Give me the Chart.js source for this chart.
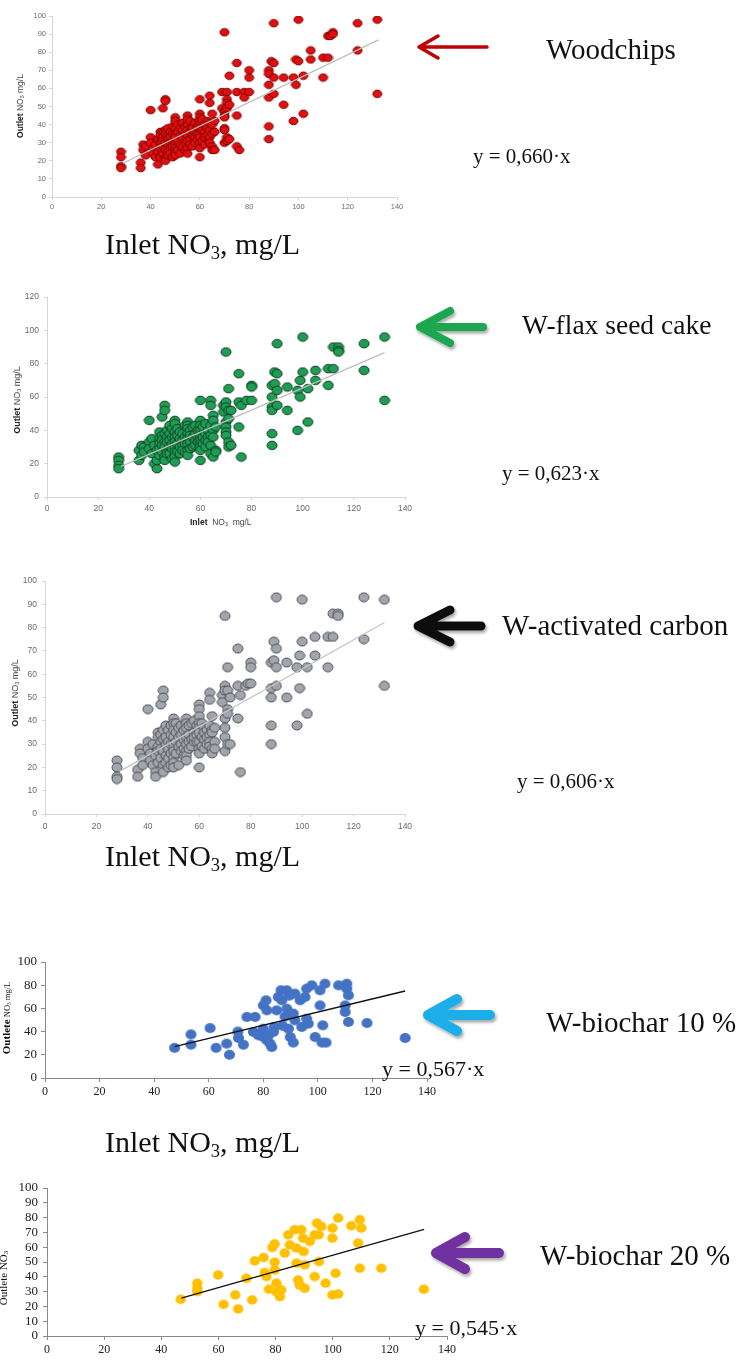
<!DOCTYPE html>
<html>
<head>
<meta charset="utf-8">
<script src="https://cdn.jsdelivr.net/npm/chart.js@4"></script>
<style>
  body { margin: 0; background: #fff; }
  #page { position: relative; width: 746px; height: 1364px; overflow: hidden; background: #fff; }
  canvas { position: absolute; left: 0; }
  .txt { position: absolute; font-family: "Liberation Serif", "Times New Roman", serif; color: #111; white-space: nowrap; transform: translateY(-50%); line-height: 1; }
  .ytitle { position: absolute; white-space: nowrap; transform: translate(-50%, -50%) rotate(-90deg); line-height: 1; }
  .sans { font-family: "Liberation Sans", Arial, sans-serif; color: #444; }
  sub { font-size: 0.62em; vertical-align: -0.25em; line-height: 0; }
</style>
</head>
<body>
<div id="page">
  <canvas id="c1"></canvas>
  <canvas id="c2"></canvas>
  <canvas id="c3"></canvas>
  <canvas id="c4"></canvas>
  <canvas id="c5"></canvas>

  <svg width="746" height="1364" style="position:absolute;left:0;top:0">
    <defs>
      <filter id="sh" x="-20%" y="-50%" width="140%" height="200%">
        <feDropShadow dx="1.5" dy="2.5" stdDeviation="1.5" flood-opacity="0.35"/>
      </filter>
    </defs>
    <path d="M487 47 H419 M438 36 L419 47 L438 58" stroke="#c00000" stroke-width="3.5" fill="none" stroke-linecap="round" stroke-linejoin="round"/>
    <path d="M483 327 H420 M450 311 L420 327 L450 343" stroke="#1fa64f" stroke-width="8" fill="none" stroke-linecap="round" stroke-linejoin="round" filter="url(#sh)"/>
    <path d="M481 626 H418 M450 610 L418 626 L450 642" stroke="#111" stroke-width="9" fill="none" stroke-linecap="round" stroke-linejoin="round" filter="url(#sh)"/>
    <path d="M490 1015 H428 M457 999 L428 1015 L457 1031" stroke="#1eaee8" stroke-width="10" fill="none" stroke-linecap="round" stroke-linejoin="round" filter="url(#sh)"/>
    <path d="M499 1253 H436 M465 1237 L436 1253 L465 1269" stroke="#7030a0" stroke-width="10" fill="none" stroke-linecap="round" stroke-linejoin="round" filter="url(#sh)"/>
  </svg>

  <div class="txt" style="left:546px;top:49px;font-size:29px">Woodchips</div>
  <div class="txt" style="left:473px;top:156px;font-size:21px">y = 0,660·x</div>
  <div class="txt" style="left:105px;top:244px;font-size:30px">Inlet NO<sub>3</sub>, mg/L</div>
  <div class="ytitle sans" style="left:20px;top:106px;font-size:8.5px"><b style="color:#222">Outlet</b> NO<sub>3</sub> mg/L</div>

  <div class="txt" style="left:522px;top:325px;font-size:27.5px">W-flax seed cake</div>
  <div class="txt" style="left:502px;top:473px;font-size:21px">y = 0,623·x</div>
  <div class="txt sans" style="left:190px;top:522px;font-size:8.5px;color:#444"><b style="color:#222">Inlet</b>&nbsp; NO<sub>3</sub>&nbsp; mg/L</div>
  <div class="ytitle sans" style="left:17px;top:400px;font-size:9px"><b style="color:#222">Outlet</b> NO<sub>3</sub> mg/L</div>

  <div class="txt" style="left:502px;top:625px;font-size:29px">W-activated carbon</div>
  <div class="txt" style="left:517px;top:781px;font-size:21px">y = 0,606·x</div>
  <div class="txt" style="left:105px;top:856px;font-size:30px">Inlet NO<sub>3</sub>, mg/L</div>
  <div class="ytitle sans" style="left:15px;top:693px;font-size:9px"><b style="color:#222">Outlet</b> NO<sub>3</sub> mg/L</div>

  <div class="txt" style="left:546px;top:1022px;font-size:29px">W-biochar 10 %</div>
  <div class="txt" style="left:382px;top:1069px;font-size:22px">y = 0,567·x</div>
  <div class="txt" style="left:105px;top:1142px;font-size:30px">Inlet NO<sub>3</sub>, mg/L</div>
  <div class="ytitle" style="left:6px;top:1018px;font-family:'Liberation Serif',serif;font-size:8.5px;color:#111"><b style="font-size:11px">Outlete</b> NO<sub>3</sub> mg/L</div>

  <div class="txt" style="left:540px;top:1255px;font-size:29px">W-biochar 20 %</div>
  <div class="txt" style="left:415px;top:1328px;font-size:22px">y = 0,545·x</div>
  <div class="ytitle" style="left:3px;top:1278px;font-family:'Liberation Serif',serif;font-size:11px;color:#111">Outlete NO<sub>3</sub></div>
</div>

<script>
// inlet NO3 (x) vs outlet NO3 (y), mg/L
const woodchipsPoints = [
  [28,25],[28,22],[28,17],[28,16],
  [36,19],[36,16],[37,29],[37,26],[38,23],[38,28],
  [40,48],[40,33],[40,30],[41,27],[41,24],[42,22],[42,29],[43,18],[43,32],[43,25],
  [44,36],[44,34],[44,30],[44,27],[44,22],
  [45,49],[45,36],[45,33],[45,31],[45,28],[45,24],
  [46,54],[46,53],[46,37],[46,35],[46,30],[46,26],[46,21],[46,20],
  [47,38],[47,34],[47,32],[47,29],[47,25],[47,23],
  [48,36],[48,33],[48,30],[48,27],[48,24],
  [49,39],[49,35],[49,31],[49,28],[49,22],
  [50,44],[50,42],[50,38],[50,35],[50,33],[50,30],[50,27],[50,25],[50,23],
  [51,40],[51,36],[51,31],[51,26],
  [52,38],[52,34],[52,29],[52,24],
  [53,41],[53,37],[53,33],[53,28],
  [54,39],[54,35],[54,30],[54,26],
  [55,45],[55,43],[55,40],[55,37],[55,34],[55,31],[55,27],[55,24],
  [56,42],[56,36],[56,32],[56,29],
  [57,38],[57,34],[57,28],
  [58,41],[58,36],[58,33],[58,30],
  [59,39],[59,35],[59,32],
  [60,54],[60,46],[60,44],[60,42],[60,40],[60,38],[60,35],[60,33],[60,30],[60,27],[60,22],
  [61,43],[61,37],[61,31],
  [62,40],[62,36],[62,33],[62,29],
  [63,42],[63,38],[63,34],
  [64,56],[64,52],[64,41],[64,37],[64,33],[64,30],
  [65,46],[65,40],[65,35],[65,28],[65,26],
  [66,42],[66,36],[66,26],
  [69,58],[69,49],[70,91],[70,47],[70,45],[70,44],[70,38],[70,37],[70,30],
  [71,58],[71,54],[71,52],[71,49],[71,33],[71,31],[72,67],[72,51],[72,32],
  [75,74],[75,58],[75,45],[75,28],[76,26],
  [78,58],[78,55],[80,58],[80,70],[80,66],
  [88,70],[88,68],[88,62],[88,55],[88,39],[88,32],
  [89,75],[90,74],[90,96],[90,57],[90,66],
  [94,66],[94,51],[98,66],[99,62],[98,42],[99,76],[100,75],[100,98],
  [102,67],[102,46],[105,81],[105,76],
  [110,66],[110,77],[112,77],[112,89],[113,89],[114,91],[114,90],
  [124,96],[124,81],[132,98],[132,57]
];
const flaxPoints = [
  [28,24],[28,22],[28,19],[28,17],
  [36,22],[36,28],[37,31],[37,25],[38,30],[38,27],
  [40,46],[40,33],[40,29],[41,26],[41,35],[42,20],[42,31],[43,17],[43,22],[43,28],
  [44,39],[44,35],[44,32],[44,29],[44,25],
  [45,48],[45,37],[45,34],[45,31],[45,27],
  [46,55],[46,52],[46,38],[46,33],[46,30],[46,24],[46,22],
  [47,40],[47,36],[47,33],[47,28],[47,26],
  [48,43],[48,38],[48,34],[48,30],[48,26],
  [49,41],[49,36],[49,32],[49,29],[49,23],
  [50,46],[50,44],[50,39],[50,36],[50,33],[50,30],[50,27],[50,24],[50,21],
  [51,41],[51,37],[51,32],[51,27],
  [52,39],[52,35],[52,30],[52,26],
  [53,38],[53,34],[53,31],[53,28],
  [54,43],[54,36],[54,32],[54,27],
  [55,45],[55,43],[55,41],[55,38],[55,35],[55,32],[55,28],[55,25],
  [56,40],[56,37],[56,33],[56,29],
  [57,42],[57,36],[57,30],
  [58,43],[58,38],[58,34],[58,31],
  [59,40],[59,36],[59,33],
  [60,58],[60,46],[60,43],[60,40],[60,37],[60,34],[60,32],[60,30],[60,28],[60,22],
  [61,42],[61,36],[61,32],
  [62,44],[62,38],[62,34],[62,30],
  [63,40],[63,36],[63,33],
  [64,58],[64,55],[64,43],[64,37],[64,31],[64,26],
  [65,49],[65,46],[65,40],[65,36],[65,24],
  [66,42],[66,28],[66,27],
  [69,55],[69,51],[70,87],[70,57],[70,54],[70,45],[70,42],[70,39],[70,37],
  [71,65],[71,52],[71,47],[71,33],[71,30],[72,52],[72,31],
  [75,74],[75,57],[75,42],[76,55],[76,24],
  [78,58],[80,58],[80,67],[80,66],
  [88,67],[89,68],[89,75],[90,74],[90,92],[88,60],[88,54],[88,52],[90,64],[90,55],[88,38],[88,31],
  [94,66],[94,52],[98,64],[99,70],[99,60],[98,40],[100,75],[100,96],
  [102,65],[102,45],[105,76],[105,70],
  [110,67],[110,77],[112,77],[112,90],[114,90],[114,88],[114,87],
  [124,92],[124,76],[132,96],[132,58]
];
const carbonPoints = [
  [28,23],[28,20],[28,16],[28,15],
  [36,19],[36,16],[37,28],[37,26],[38,24],[38,21],
  [40,45],[40,31],[40,28],[41,26],[41,23],[42,21],[42,30],[43,18],[43,16],[43,25],
  [44,35],[44,33],[44,29],[44,27],[44,22],
  [45,47],[45,34],[45,31],[45,28],[45,24],
  [46,53],[46,50],[46,36],[46,32],[46,27],[46,21],[46,18],
  [47,38],[47,33],[47,30],[47,25],[47,22],
  [48,36],[48,31],[48,28],[48,24],[48,20],
  [49,38],[49,34],[49,30],[49,26],[49,21],
  [50,41],[50,39],[50,36],[50,33],[50,30],[50,27],[50,24],[50,22],[50,20],
  [51,39],[51,35],[51,31],[51,26],
  [52,37],[52,33],[52,29],[52,21],
  [53,38],[53,34],[53,30],[53,27],
  [54,36],[54,32],[54,28],[54,25],
  [55,41],[55,39],[55,37],[55,33],[55,30],[55,27],[55,25],[55,23],
  [56,38],[56,34],[56,31],[56,28],
  [57,39],[57,32],[57,29],
  [58,40],[58,35],[58,31],[58,33],
  [59,38],[59,34],[59,31],
  [60,47],[60,45],[60,42],[60,39],[60,37],[60,35],[60,31],[60,28],[60,26],[60,20],
  [61,39],[61,33],[61,29],
  [62,37],[62,32],[62,28],[62,35],
  [63,36],[63,33],[63,30],
  [64,52],[64,49],[64,38],[64,34],[64,31],[64,29],
  [65,42],[65,36],[65,35],[65,28],[65,26],
  [66,37],[66,31],[66,28],
  [69,51],[69,48],[70,85],[70,55],[70,53],[70,41],[70,37],[70,33],[70,27],
  [71,63],[71,53],[71,45],[71,43],[71,30],[72,50],[72,30],
  [75,71],[75,55],[75,41],[76,51],[76,18],
  [78,55],[79,56],[80,56],[80,65],[80,63],
  [88,65],[89,66],[89,74],[90,71],[90,93],[88,54],[88,50],[90,63],[90,55],[88,38],[88,30],
  [94,65],[94,50],[98,63],[99,68],[99,54],[98,38],[100,74],[100,92],
  [102,63],[102,43],[105,76],[105,68],
  [110,76],[112,76],[110,63],[112,86],[114,86],[114,85],
  [124,93],[124,75],[132,92],[132,55]
];
const biochar10Points = [
  [47.5,26],[53.5,37.6],[53.5,28.7],[60.5,43],[62.7,26],[66.6,29.6],[67.6,20],
  [70.7,40],[70.9,34.5],[72.7,28.7],[74,52.6],[77,52.6],[76.4,39.7],[78.2,36.8],
  [80,62.6],[81,67],[81.3,58.3],[80,42.5],[80,35.3],[81.3,32.5],[82.5,29.6],[83.1,26.7],
  [81.9,36.8],[83.7,39.7],[84,44],[84.9,58.3],[85.5,69.8],[86.8,67],[86.5,75.6],[87,45],
  [88,53],[88.6,75.6],[88.6,59.8],[89.2,42.5],[89.5,71],[89.9,35.3],[91,30.5],[91,55.5],
  [91.6,49.7],[91.6,72.7],[93.5,67],[95.3,69.8],[95.9,77],[97.8,79.9],[94.1,44],
  [95.9,51.1],[96.5,46.8],[100.8,62.6],[100.8,75.6],[102.6,81.3],[101.8,45.4],[99,35.3],
  [101.5,30.5],[103,30.5],[107.6,79.9],[110.6,81.3],[110.6,77],[111.2,71.3],[110,62.6],
  [110,56.9],[111.2,48.3],[118,47.4],[132,34.5]
];
const biochar20Points = [
  [46.8,24.8],[52.6,35.7],[52.6,32.3],[52.6,30],[59.9,41.3],[61.8,21.4],[65.9,27.8],
  [66.9,18.3],[69.8,39],[71.8,24.4],[72.7,50.8],[75.8,53],[76.2,42.9],[76.8,40.2],
  [77.7,31.6],[78.9,59.8],[79.7,62.3],[79.7,49.9],[79.7,44.7],[80.3,35.7],[80.3,30],
  [81.5,26.6],[82,31.2],[83.2,56],[84.4,68.4],[85,61.6],[86.7,71.8],[87.3,59.4],
  [87.3,49.2],[87.9,37.9],[88.4,34.5],[89,71.8],[89.6,66.1],[89.8,57.1],[90.2,48.1],
  [90.2,32.3],[92,63.9],[93.7,68.4],[93.7,40.2],[94.5,76.3],[95.1,68.4],[95.2,50.3],
  [96,74],[97.5,35.7],[99.9,72.9],[99.9,66.1],[101,42.4],[101.9,79.7],[99.9,27.8],
  [101.9,28.4],[106.5,74.5],[109.5,78.6],[110,72.9],[108.9,62.8],[109.5,45.8],
  [117,45.8],[131.9,31.6]
];

// linear trend lines (end points as drawn)
const woodchipsTrend = [[28.8,18.6],[132.5,86.8]];
const flaxTrend = [[29,18.4],[132,86.6]];
const carbonTrend = [[29,18.3],[132,82.2]];
const biochar10Trend = [[47.5,27],[132,75]];
const biochar20Trend = [[47,25.6],[132,72]];

// tick labels
const inletTicks = [0,20,40,60,80,100,120,140];
const outletTicks10 = [0,10,20,30,40,50,60,70,80,90,100];
const outletTicks20 = [0,20,40,60,80,100];
const outletTicks120 = [0,20,40,60,80,100,120];

function dot(w, h, fill, stroke) {
  const c = document.createElement('canvas');
  c.width = Math.ceil(w) + 2;
  c.height = Math.ceil(h) + 2;
  const g = c.getContext('2d');
  g.beginPath();
  g.ellipse(c.width / 2, c.height / 2, w / 2, h / 2, 0, 0, Math.PI * 2);
  g.fillStyle = fill;
  g.fill();
  if (stroke) {
    g.lineWidth = 1;
    g.strokeStyle = stroke;
    g.stroke();
  }
  return c;
}

function makeChart(id, o) {
  const canvas = document.getElementById(id);
  const padTop = 8, padRight = 22;
  canvas.width = o.right + padRight;
  canvas.height = o.bottom + o.xAxisH - (o.top - padTop);
  canvas.style.top = (o.top - padTop) + 'px';

  const tickFont = { family: o.font, size: o.xFontSize };
  new Chart(canvas, {
    type: 'scatter',
    data: {
      datasets: [
        {
          data: o.trend,
          showLine: true,
          pointRadius: 0,
          borderColor: o.trendColor,
          borderWidth: o.trendWidth,
          fill: false
        },
        {
          data: o.points,
          pointStyle: o.dot,
          pointRadius: 5
        }
      ]
    },
    options: {
      responsive: false,
      animation: false,
      devicePixelRatio: 1,
      layout: { padding: { top: padTop, right: padRight, left: 0, bottom: 0 } },
      plugins: { legend: { display: false }, tooltip: { enabled: false } },
      scales: {
        x: {
          min: 0, max: 140,
          afterBuildTicks: s => { s.ticks = inletTicks.map(v => ({ value: v })); },
          afterFit: s => { s.height = o.xAxisH; s.paddingLeft = 0; s.paddingRight = 0; },
          grid: { display: true, drawOnChartArea: false, drawTicks: true, tickLength: o.tickLen, color: o.axisColor },
          border: { display: true, color: o.axisColor, width: 1 },
          ticks: { font: tickFont, color: o.tickColor, padding: o.xPad, maxRotation: 0, autoSkip: false }
        },
        y: {
          min: 0, max: o.yMax,
          afterBuildTicks: s => { s.ticks = o.yTicks.map(v => ({ value: v })); },
          afterFit: s => { s.width = o.left; s.paddingTop = 0; s.paddingBottom = 0; },
          grid: { display: true, drawOnChartArea: false, drawTicks: true, tickLength: o.tickLen, color: o.axisColor },
          border: { display: true, color: o.axisColor, width: 1 },
          ticks: { font: { family: o.font, size: o.yFontSize }, color: o.tickColor, padding: o.yPad, autoSkip: false }
        }
      }
    }
  });
}

const sans = '"Liberation Sans", Arial, sans-serif';
const serif = '"Liberation Serif", "Times New Roman", serif';

makeChart('c1', {
  top: 16, bottom: 197, left: 52, right: 397, xAxisH: 20,
  yMax: 100, yTicks: outletTicks10, points: woodchipsPoints, trend: woodchipsTrend,
  dot: dot(9, 7.5, '#e01010', '#7a0000'), trendColor: '#bdbdbd', trendWidth: 1.2,
  font: sans, xFontSize: 7.5, yFontSize: 7.5, tickColor: '#6a6a6a', axisColor: '#d6d6d6',
  tickLen: 3, xPad: 2, yPad: 3
});
makeChart('c2', {
  top: 297, bottom: 497, left: 47, right: 405, xAxisH: 20,
  yMax: 120, yTicks: outletTicks120, points: flaxPoints, trend: flaxTrend,
  dot: dot(10, 8.5, '#1f9d55', '#0c3f20'), trendColor: '#bdbdbd', trendWidth: 1.2,
  font: sans, xFontSize: 8.5, yFontSize: 8.5, tickColor: '#6a6a6a', axisColor: '#d6d6d6',
  tickLen: 3, xPad: 4, yPad: 5
});
makeChart('c3', {
  top: 581, bottom: 814, left: 45, right: 405, xAxisH: 22,
  yMax: 100, yTicks: outletTicks10, points: carbonPoints, trend: carbonTrend,
  dot: dot(10, 9, '#a3a5ad', '#4e5058'), trendColor: '#c4c4c4', trendWidth: 1.2,
  font: sans, xFontSize: 8.5, yFontSize: 8.5, tickColor: '#6a6a6a', axisColor: '#d6d6d6',
  tickLen: 3, xPad: 5, yPad: 5
});
makeChart('c4', {
  top: 962, bottom: 1078, left: 45, right: 427, xAxisH: 22,
  yMax: 100, yTicks: outletTicks20, points: biochar10Points, trend: biochar10Trend,
  dot: dot(11, 10, '#4472c4'), trendColor: '#111', trendWidth: 1.3,
  font: serif, xFontSize: 12, yFontSize: 13, tickColor: '#222', axisColor: '#8a8a8a',
  tickLen: 4, xPad: 3, yPad: 4
});
makeChart('c5', {
  top: 1188, bottom: 1336, left: 47, right: 447, xAxisH: 24,
  yMax: 100, yTicks: outletTicks10, points: biochar20Points, trend: biochar20Trend,
  dot: dot(10.5, 9.5, '#ffc000'), trendColor: '#111', trendWidth: 1.3,
  font: serif, xFontSize: 12, yFontSize: 13, tickColor: '#222', axisColor: '#8a8a8a',
  tickLen: 4, xPad: 3, yPad: 5
});
</script>
</body>
</html>
